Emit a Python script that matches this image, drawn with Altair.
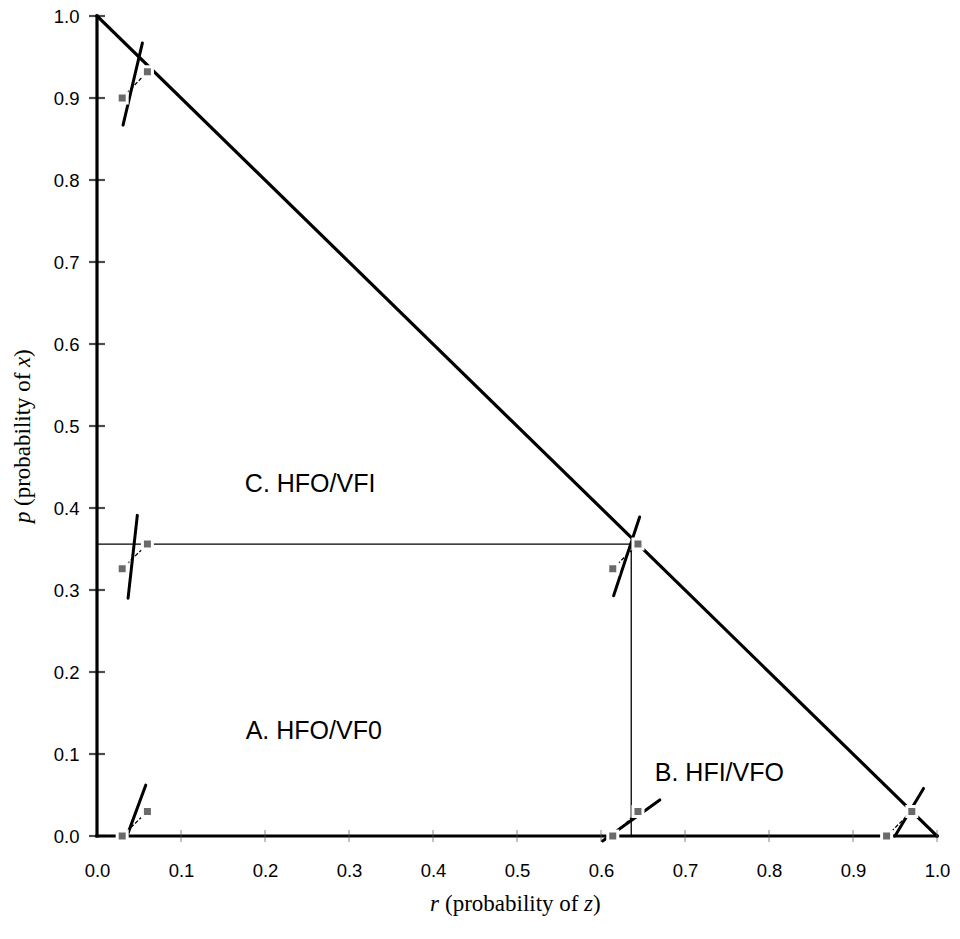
import altair as alt
import pandas as pd

# Axis tick values
r_ticks = [0.0, 0.1, 0.2, 0.3, 0.4, 0.5, 0.6, 0.7, 0.8, 0.9, 1.0]
p_ticks = [0.0, 0.1, 0.2, 0.3, 0.4, 0.5, 0.6, 0.7, 0.8, 0.9, 1.0]

# Triangle edges (r0, p0) -> (r1, p1)
edge_r0 = [0.0, 0.0, 0.0]
edge_p0 = [0.0, 0.0, 1.0]
edge_r1 = [0.0, 1.0, 1.0]
edge_p1 = [1.0, 0.0, 0.0]

# Region boundaries (thin lines)
bound_r0 = [0.0, 0.636]
bound_p0 = [0.356, 0.0]
bound_r1 = [0.636, 0.636]
bound_p1 = [0.356, 0.356]

# Lottery pairs: lower point and upper point
pair_r0 = [0.03, 0.03, 0.03, 0.614, 0.614, 0.94]
pair_p0 = [0.00, 0.90, 0.326, 0.326, 0.00, 0.00]
pair_r1 = [0.06, 0.06, 0.06, 0.644, 0.644, 0.97]
pair_p1 = [0.03, 0.932, 0.356, 0.356, 0.03, 0.03]

# Indifference-curve slope segments
tan_r0 = [0.035, 0.031, 0.037, 0.615, 0.602, 0.950]
tan_p0 = [-0.002, 0.867, 0.290, 0.293, -0.006, 0.000]
tan_r1 = [0.058, 0.054, 0.048, 0.646, 0.670, 0.984]
tan_p1 = [0.062, 0.967, 0.391, 0.389, 0.044, 0.058]

# Region labels
region_text = ["C. HFO/VFI", "A. HFO/VF0", "B. HFI/VFO"]
region_r = [0.176, 0.177, 0.664]
region_p = [0.429, 0.128, 0.077]

W, H = 840, 820
xs = alt.Scale(domain=[0, 1], nice=False, zero=False)
ys = alt.Scale(domain=[0, 1], nice=False, zero=False)

x_axis = alt.Axis(values=r_ticks, format=".1f", title=None, domain=False, ticks=False,
                  grid=False, labelFont="Liberation Sans", labelFontSize=18.5,
                  labelColor="black", labelPadding=25, labelFlush=False)
y_axis = alt.Axis(values=p_ticks, format=".1f", title=None, domain=False, ticks=False,
                  grid=False, labelFont="Liberation Sans", labelFontSize=18.5,
                  labelColor="black", labelPadding=18, labelFlush=False)


def X(field):
    return alt.X(field, scale=xs, axis=x_axis)


def Y(field):
    return alt.Y(field, scale=ys, axis=y_axis)


def seg(r0, p0, r1, p1):
    return pd.DataFrame({"r0": r0, "p0": p0, "r1": r1, "p1": p1})


def rules(df, **mark):
    return alt.Chart(df).mark_rule(**mark).encode(
        x=X("r0:Q"), y=Y("p0:Q"), x2="r1:Q", y2="p1:Q")


xtick = alt.Chart(pd.DataFrame({"r": r_ticks[1:]})).mark_tick(
    orient="vertical", size=12, thickness=1, color="#555555"
).encode(x=X("r:Q"), y=alt.datum(0))

ytick = alt.Chart(pd.DataFrame({"p": p_ticks})).mark_tick(
    orient="horizontal", size=16, thickness=2.2, color="black"
).encode(y=Y("p:Q"), x=alt.datum(0))

bounds = rules(seg(bound_r0, bound_p0, bound_r1, bound_p1), color="black", strokeWidth=1.3)
edges = rules(seg(edge_r0, edge_p0, edge_r1, edge_p1), color="black", strokeWidth=3.2,
              strokeCap="square")
links = rules(seg(pair_r0, pair_p0, pair_r1, pair_p1), color="black", strokeWidth=1.3,
              strokeDash=[4, 2])
tangents = rules(seg(tan_r0, tan_p0, tan_r1, tan_p1), color="black", strokeWidth=3,
                 strokeCap="round")

pts = pd.DataFrame({"r": pair_r0 + pair_r1, "p": pair_p0 + pair_p1})
squares = alt.Chart(pts).mark_square(
    size=100, fill="#6a6a6a", fillOpacity=1, stroke="white", strokeWidth=3, opacity=1
).encode(x=X("r:Q"), y=Y("p:Q"))

regions = alt.Chart(pd.DataFrame({"t": region_text, "r": region_r, "p": region_p})).mark_text(
    align="left", baseline="middle", font="Liberation Sans", fontSize=25, color="black"
).encode(x=X("r:Q"), y=Y("p:Q"), text="t:N")


def label(text, x, y, italic=False, angle=0):
    props = dict(align="left", baseline="alphabetic", font="Liberation Serif",
                 fontSize=23, color="black")
    if italic:
        props["fontStyle"] = "italic"
    if angle:
        props["angle"] = angle
    return alt.Chart(pd.DataFrame({"t": [text]})).mark_text(**props).encode(
        text="t:N", x=alt.value(x), y=alt.value(y))


# Axis titles with italic variable names
xt = 895
x_title = [
    label("r", 333, xt, italic=True),
    label("(probability of", 348, xt),
    label("z", 487, xt, italic=True),
    label(")", 496, xt),
]
yt = -67
y_title = [
    label("p", yt, 507, italic=True, angle=270),
    label("(probability of", yt, 490, angle=270),
    label("x", yt, 351, italic=True, angle=270),
    label(")", yt, 341, angle=270),
]

chart = alt.layer(
    bounds, edges, xtick, ytick, links, tangents, squares, regions, *x_title, *y_title
).properties(
    width=W, height=H,
    autosize=alt.AutoSizeParams(type="none"),
    padding={"left": 97, "top": 16, "right": 23, "bottom": 103},
    background="white",
).configure_view(stroke=None)

chart.save("out.html", embed_options={"renderer": "svg", "actions": False})
